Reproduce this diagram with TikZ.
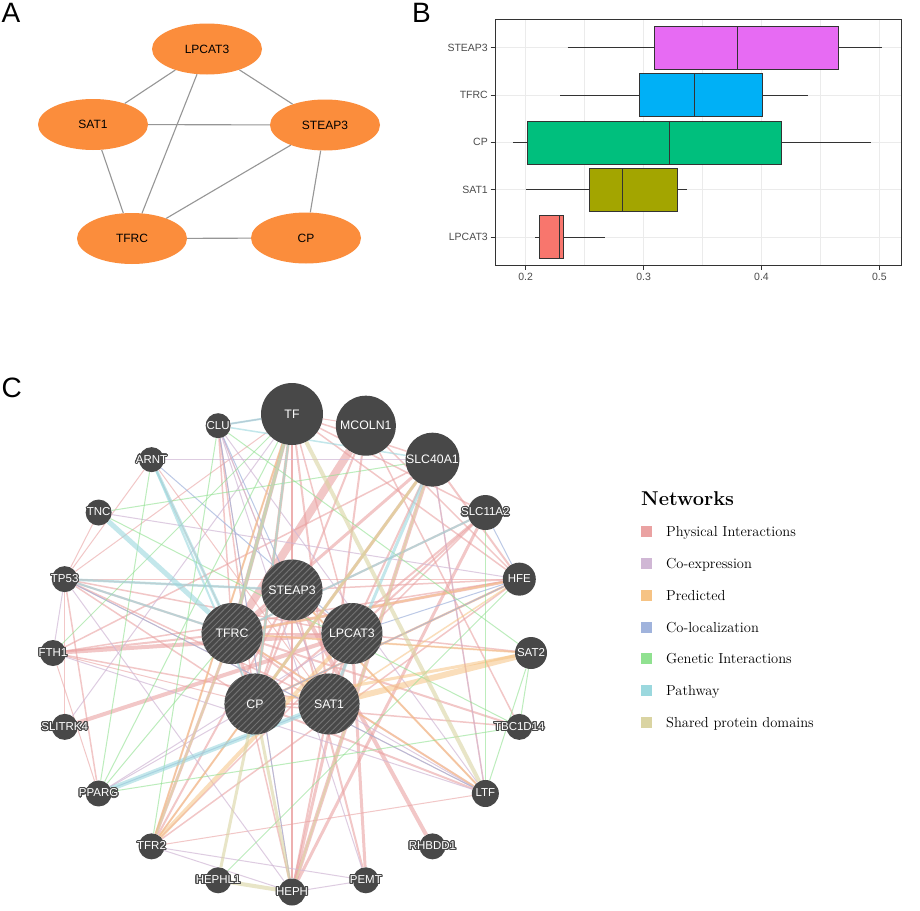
\documentclass[tikz,border=0pt]{standalone}
\usepackage{fontspec}
\newfontfamily\arial{Liberation Sans}
\usepackage{contour}
\contourlength{1.1pt}
\usepackage{tikz}
\usetikzlibrary{
    shapes.geometric,
    patterns.meta,
    positioning
}

\definecolor{nodeorange}{RGB}{251,141,60}
\definecolor{edgegray}{RGB}{150,150,150}
\definecolor{boxSTEAP}{HTML}{E76BF3}
\definecolor{boxTFRC}{HTML}{00B0F6}
\definecolor{boxCP}{HTML}{00BF7D}
\definecolor{boxSAT}{HTML}{A3A500}
\definecolor{boxLPCAT}{HTML}{F8766D}
\definecolor{gridgray}{gray}{0.92}
\definecolor{framegray}{gray}{0.2}
\definecolor{ticktext}{gray}{0.3}
\definecolor{gnodegray}{RGB}{72,72,72}
\definecolor{netphys}{HTML}{EAA2A2}
\definecolor{netcoexp}{HTML}{D0B7D5}
\definecolor{netpred}{HTML}{F6C384}
\definecolor{netcoloc}{HTML}{A0B3DC}
\definecolor{netgenet}{HTML}{90E190}
\definecolor{netpath}{HTML}{9BD8DE}
\definecolor{netshared}{HTML}{DAD4A2}

\pgfdeclarelayer{bg}
\pgfdeclarelayer{edges}
\pgfsetlayers{bg,edges,main}

% value on the x axis of panel B -> page x
\newcommand{\valx}[1]{289.9+1179*#1}

\begin{document}
\begin{tikzpicture}[x=1pt, y=-1pt,
    panel/.style={anchor=base west, inner sep=0pt, font=\arial\fontsize{28}{30}\selectfont},
    anode/.style={ellipse, fill=nodeorange, minimum width=110pt, minimum height=51pt,
        inner sep=0pt, font=\arial\fontsize{12}{14}\selectfont},
    aedge/.style={draw=edgegray, line width=1.1pt},
    blabel/.style={inner sep=0pt, text=ticktext, font=\arial\fontsize{10.5}{12}\selectfont},
    gridmajor/.style={draw=gridgray, line width=1pt},
    gridminor/.style={draw=gridgray, line width=0.5pt},
    gnode/.style={circle, fill=gnodegray, inner sep=0pt},
    ginner/.style={gnode, minimum size=61pt,
        postaction={pattern={Lines[angle=45, distance=4.5pt, line width=1pt]}, pattern color=gray!75!gnodegray}},
    glabel/.style={inner sep=0pt, text=white, font=\arial\fontsize{12.3}{14}\selectfont},
    gsmall/.style={inner sep=0pt, text=white, font=\arial\fontsize{11.5}{13}\selectfont},
    phys/.style={draw=netphys, opacity=0.6},
    coexp/.style={draw=netcoexp, opacity=0.7},
    pred/.style={draw=netpred, opacity=0.55},
    coloc/.style={draw=netcoloc, opacity=0.7},
    genet/.style={draw=netgenet, opacity=0.6},
    path/.style={draw=netpath, opacity=0.6},
    shared/.style={draw=netshared, opacity=0.6},
    legtext/.style={anchor=base west, inner sep=0pt, font=\fontsize{14.5}{16}\selectfont}
]
    \useasboundingbox (0,0) rectangle (920,910);
    \begin{pgfonlayer}{bg}
        \fill[white] (0,0) rectangle (920,910);
    \end{pgfonlayer}

    \node[panel] (labA) at (1.5,22.7) {A};
    \node[panel] (labB) at (412,22.7) {B};
    \node[panel] (labC) at (1.5,397) {C};

    % panel A
    \node[anode] (aLPCAT3) at (207,49) {LPCAT3};
    \node[anode] (aSAT1) at (93,124.5) {SAT1};
    \node[anode] (aSTEAP3) at (325,125) {STEAP3};
    \node[anode] (aTFRC) at (132,238.5) {TFRC};
    \node[anode] (aCP) at (306,238) {CP};
    \draw[aedge]
        (aLPCAT3) -- (aSAT1)
        (aLPCAT3) -- (aSTEAP3)
        (aLPCAT3) -- (aTFRC)
        (aSAT1) -- (aSTEAP3)
        (aSAT1) -- (aTFRC)
        (aSTEAP3) -- (aTFRC)
        (aSTEAP3) -- (aCP)
        (aTFRC) -- (aCP);

    % panel B
    \foreach \v in {0.25,0.35,0.45}
        \draw[gridminor] ({\valx{\v}},19) -- ({\valx{\v}},265);
    \foreach \v in {0.2,0.3,0.4,0.5} {
        \draw[gridmajor] ({\valx{\v}},19) -- ({\valx{\v}},265);
        \draw[framegray, line width=0.8pt] ({\valx{\v}},265) -- ({\valx{\v}},269.5);
        \node[blabel, anchor=north] (bx\v) at ({\valx{\v}},273) {\v};
    }
    \foreach \g/\yy/\lo/\qa/\md/\qb/\hi/\col in {
        STEAP3/47.7/0.2356/0.3088/0.3795/0.4649/0.5025/boxSTEAP,
        TFRC/95/0.2291/0.2967/0.343/0.4007/0.4397/boxTFRC,
        CP/142.3/0.1895/0.2017/0.3221/0.4165/0.4929/boxCP,
        SAT1/189.7/0.2/0.2537/0.2819/0.3283/0.3371/boxSAT,
        LPCAT3/237/0.2081/0.2113/0.2285/0.2322/0.2675/boxLPCAT} {
        \draw[gridmajor] (495,\yy) -- (901,\yy);
        \draw[framegray, line width=0.6pt] ({\valx{\lo}},\yy) -- ({\valx{\qa}},\yy)
            ({\valx{\qb}},\yy) -- ({\valx{\hi}},\yy);
        \draw[framegray, line width=0.6pt, fill=\col] ({\valx{\qa}},\yy-21.5) rectangle ({\valx{\qb}},\yy+21.5);
        \draw[framegray, line width=0.6pt] ({\valx{\md}},\yy-21.5) -- ({\valx{\md}},\yy+21.5);
        \draw[framegray, line width=0.8pt] (490.5,\yy) -- (495,\yy);
        \node[blabel, anchor=east] (b\g) at (488,\yy) {\g};
    }
    \draw[framegray, line width=1pt] (495,19) rectangle (901,265);

    % panel C
    \begin{scope}[shift={(292,653)}, y=1pt]
        \foreach \g/\ang in {STEAP3/90, LPCAT3/18, SAT1/-54, CP/-126, TFRC/162} {
            \node[ginner] (c\g) at (\ang:63) {};
            \node[glabel] at (c\g) {\g};
        }
        \foreach \g/\ang/\d in {TF/90/62, MCOLN1/72/60, SLC40A1/54/54} {
            \node[gnode, minimum size=\d pt] (c\g) at (\ang:239) {};
            \node[glabel] at (c\g) {\g};
        }
        \foreach \g/\ang/\d in {SLC11A2/36/35, HFE/18/33, SAT2/0/32, TBC1D14/-18/26,
            LTF/-36/27, RHBDD1/-54/26, PEMT/-72/26, HEPH/-90/27, HEPHL1/-108/26,
            TFR2/-126/26, PPARG/-144/26, SLITRK4/-162/26, FTH1/180/26, TP53/162/26,
            TNC/144/26, ARNT/126/25, CLU/108/25} {
            \node[gnode, minimum size=\d pt] (c\g) at (\ang:239) {};
            \node[gsmall] at (c\g) {\contour{gnodegray}{\g}};
        }
    \end{scope}

    \begin{pgfonlayer}{edges}
        \foreach \u/\v/\w in {TF/TFRC/4, TF/CP/3, TF/STEAP3/2, TF/HEPH/1.5, TF/SAT1/2,
            TF/LPCAT3/1.5, TF/TFR2/1.5, TF/HFE/1.5, TF/TP53/1, TF/CLU/1, TF/SLC40A1/1.5,
            TF/MCOLN1/1, MCOLN1/TFRC/8, MCOLN1/SAT1/2, MCOLN1/HFE/1.5, MCOLN1/TBC1D14/1.5,
            MCOLN1/CP/2, SLC40A1/HEPH/4, SLC40A1/CP/3, SLC40A1/TFRC/3, SLC40A1/LPCAT3/2,
            SLC40A1/FTH1/1.5, SLC40A1/HFE/2, SLC40A1/LTF/1.5, SLC11A2/HEPH/3,
            SLC11A2/TFRC/2, SLC11A2/CP/2, SLC11A2/TFR2/1.5, SLC11A2/LPCAT3/2,
            SLC11A2/TF/1.5, HFE/TFRC/3, HFE/CP/2, HFE/FTH1/1.5, HFE/TFR2/1.5,
            HFE/STEAP3/1.5, HFE/TP53/1, SAT2/LPCAT3/1.5, SAT2/TFRC/1, TBC1D14/TFRC/2,
            TBC1D14/CP/1.5, LTF/TFRC/2, LTF/CP/2, LTF/STEAP3/1.5, LTF/TFR2/1, LTF/TP53/1,
            RHBDD1/STEAP3/4, PEMT/LPCAT3/3, PEMT/STEAP3/2, HEPH/LPCAT3/3, HEPH/STEAP3/2,
            HEPH/SAT1/2, HEPH/TFRC/1.5, TFR2/TFRC/3, TFR2/STEAP3/2, TFR2/CP/1.5,
            TP53/PPARG/1.5, TP53/SLITRK4/1, TP53/TFRC/2, TP53/STEAP3/1.5, TP53/LPCAT3/1.5,
            TP53/CP/1.5, TP53/SAT1/1.5, TP53/ARNT/1, FTH1/LPCAT3/4, FTH1/TFRC/2,
            FTH1/SAT1/1.5, FTH1/CP/1, FTH1/PPARG/1, SLITRK4/LPCAT3/4, CLU/TFRC/1.5,
            CLU/CP/1.5, CLU/SAT1/1, CLU/HEPH/1, ARNT/TFRC/1, ARNT/SAT1/1, TNC/TP53/1,
            STEAP3/TFRC/3, STEAP3/LPCAT3/2, TFRC/CP/3, CP/SAT1/2, SAT1/LPCAT3/2,
            STEAP3/CP/2, TFRC/LPCAT3/2, TFRC/SAT1/2}
            \draw[phys, line width=\w pt] (c\u) -- (c\v);
        \foreach \u/\v in {CLU/SAT1, CLU/TF, CLU/LTF, TP53/FTH1, FTH1/LTF, PPARG/CP,
            PPARG/LPCAT3, TFR2/HEPH, TFR2/PEMT, LTF/SAT1, ARNT/SLC40A1, SLITRK4/TF,
            HEPH/PEMT, CLU/PEMT, TNC/HFE, SLC40A1/LTF, TP53/HEPH}
            \draw[coexp, line width=1pt] (c\u) -- (c\v);
        \foreach \u/\v/\w in {SAT2/SAT1/6, SAT2/CP/3, SAT2/TFRC/2, TFR2/LPCAT3/4,
            TFR2/TF/2, HFE/TFRC/2, HFE/CP/2, TF/TFRC/3, LTF/STEAP3/2, TF/CP/2,
            SLC40A1/TFR2/2, HFE/SAT1/1.5, LTF/TFRC/1.5}
            \draw[pred, line width=\w pt] (c\u) -- (c\v);
        \foreach \u/\v in {CLU/STEAP3, ARNT/LPCAT3, PPARG/SAT1, HFE/LPCAT3, SLC11A2/HFE,
            HFE/CP, CLU/HEPH, TP53/LTF}
            \draw[coloc, line width=1pt] (c\u) -- (c\v);
        \foreach \u/\v in {ARNT/PPARG, TNC/SLC40A1, SAT2/TBC1D14, SAT2/LTF, TBC1D14/PPARG,
            CLU/SAT2, HFE/HEPHL1, PPARG/TFRC, PPARG/TF, FTH1/TF, TNC/TBC1D14,
            SLC11A2/LTF, CLU/TFR2}
            \draw[genet, line width=1pt] (c\u) -- (c\v);
        \foreach \u/\v/\w in {TNC/TFRC/5, ARNT/TFRC/3, ARNT/CP/2, CLU/TF/2, TP53/STEAP3/2.5,
            TP53/TFRC/2, PPARG/SAT1/5, SLC40A1/SAT1/3, SLC11A2/TFRC/2, TF/TFRC/3, TF/CP/2,
            CLU/SLC40A1/1.5}
            \draw[path, line width=\w pt] (c\u) -- (c\v);
        \foreach \u/\v/\w in {HEPHL1/HEPH/4, HEPHL1/CP/3, HEPH/CP/3, TF/LTF/4, TF/TFRC/2,
            SLC40A1/CP/3, TFRC/TFR2/2, SLC40A1/HEPH/2}
            \draw[shared, line width=\w pt] (c\u) -- (c\v);
    \end{pgfonlayer}

    % legend
    \node[anchor=base west, inner sep=0pt, font=\fontsize{20}{24}\selectfont\bfseries] (nettitle) at (641,505) {Networks};
    \foreach \lab/\col [count=\i from 0] in {Physical Interactions/netphys, Co-expression/netcoexp,
        Predicted/netpred, Co-localization/netcoloc, Genetic Interactions/netgenet,
        Pathway/netpath, Shared protein domains/netshared} {
        \pgfmathsetmacro\yy{531.7+31.8*\i}
        \fill[\col] (641,\yy-5.5) rectangle (652,\yy+5.5);
        \node[legtext] (leg\i) at (666,\yy+5) {\lab};
    }
\end{tikzpicture}
\end{document}
